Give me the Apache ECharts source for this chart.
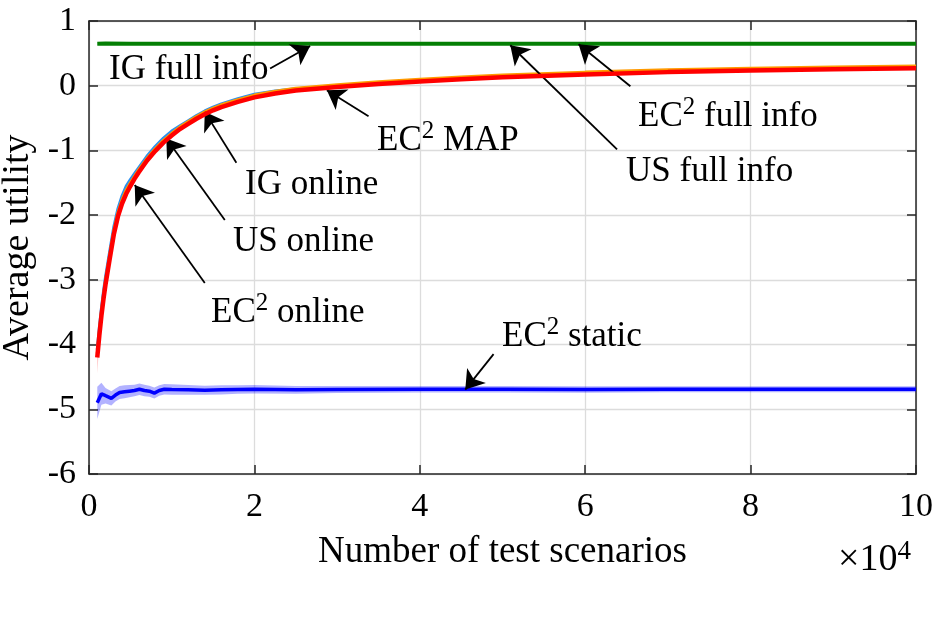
<!DOCTYPE html>
<html>
<head>
<meta charset="utf-8">
<script src="https://cdn.jsdelivr.net/npm/echarts@6/dist/echarts.min.js"></script>
<style>
html, body { margin: 0; padding: 0; background: #fff; }
#main { width: 934px; height: 624px; }
</style>
</head>
<body>
<div id="main"></div>
<script>
// number of test scenarios for the online curves
var nOnline = [1000, 1250, 1500, 1750, 2000, 2500, 3000, 3500, 4000, 4500, 5000, 5500, 6000, 7000, 8000, 9000, 10000, 11000, 12000, 13000, 14000, 15000, 16000, 18000, 20000, 22500, 25000, 30000, 35000, 40000, 45000, 50000, 60000, 70000, 80000, 90000, 100000];
var ec2Online = [-4.2, -3.86, -3.56, -3.3, -3.07, -2.68, -2.3, -2.02, -1.82, -1.67, -1.55, -1.44, -1.34, -1.16, -1.01, -0.88, -0.77, -0.67, -0.59, -0.51, -0.44, -0.38, -0.33, -0.25, -0.18, -0.12, -0.075, -0.02, 0.025, 0.065, 0.1, 0.13, 0.175, 0.21, 0.235, 0.255, 0.27];
var usOnline = [-4.14, -3.8, -3.5, -3.24, -3.01, -2.62, -2.24, -1.96, -1.76, -1.61, -1.5, -1.4, -1.3, -1.125, -0.975, -0.845, -0.735, -0.635, -0.555, -0.475, -0.405, -0.345, -0.295, -0.215, -0.145, -0.085, -0.04, 0.015, 0.06, 0.1, 0.135, 0.165, 0.21, 0.245, 0.27, 0.29, 0.305];
var igOnline = [-4.08, -3.74, -3.44, -3.18, -2.95, -2.56, -2.18, -1.9, -1.7, -1.55, -1.45, -1.36, -1.27, -1.09, -0.94, -0.81, -0.7, -0.62, -0.54, -0.46, -0.39, -0.33, -0.28, -0.2, -0.13, -0.08, -0.045, 0.0, 0.04, 0.08, 0.115, 0.145, 0.19, 0.225, 0.25, 0.27, 0.285];
// spread of EC2 online, only visible at the first scenarios
var nOnlineEarly = [1000, 1250, 1500, 1750, 2000];
var ec2OnlineEarly = [-4.2, -3.86, -3.56, -3.3, -3.07];
var ec2OnlineSpread = [0.25, 0.1, 0.06, 0.04, 0.03];

// full info (IG / US / EC2 overlap)
var nFull = [1000, 2000, 5000, 10000, 20000, 30000, 50000, 100000];
var fullInfo = [0.65, 0.652, 0.65, 0.65, 0.65, 0.65, 0.65, 0.65];

// EC2 static with its spread
var nStatic = [1000, 1500, 2000, 2700, 3200, 3700, 4300, 4900, 5500, 6100, 6700, 7300, 7900, 8500, 9100, 10000, 12000, 14000, 16000, 18000, 20000, 25000, 30000, 40000, 50000, 60000, 70000, 80000, 90000, 100000];
var staticMean = [-4.9, -4.76, -4.79, -4.83, -4.78, -4.74, -4.73, -4.72, -4.71, -4.69, -4.71, -4.72, -4.75, -4.71, -4.69, -4.695, -4.70, -4.705, -4.70, -4.695, -4.69, -4.70, -4.695, -4.69, -4.69, -4.695, -4.69, -4.69, -4.69, -4.69];
var staticSpread = [0.25, 0.17, 0.12, 0.11, 0.1, 0.1, 0.1, 0.095, 0.09, 0.09, 0.09, 0.085, 0.085, 0.08, 0.08, 0.08, 0.075, 0.07, 0.07, 0.065, 0.065, 0.06, 0.055, 0.05, 0.05, 0.05, 0.045, 0.045, 0.045, 0.045];

var yTicks = [-6, -5, -4, -3, -2, -1, 0, 1];

var FONT = '"Liberation Serif", "Times New Roman", serif';

function pairs(xs, ys) {
  return xs.map(function (x, i) { return [x, ys[i]]; });
}

// annotation arrows, [tail, head] in data units
var arrows = [
  [[21900, 0.265], [26740, 0.614]],
  [[33800, -0.471], [28760, -0.069]],
  [[17820, -1.19], [14000, -0.404]],
  [[16420, -2.076], [9350, -0.815]],
  [[14000, -3.05], [5530, -1.535]],
  [[48920, -4.148], [45500, -4.696]],
  [[63850, -0.985], [50940, 0.625]],
  [[65460, -0.008], [59200, 0.64]]
];

function note(text, x, base, size) {
  size = size || 35;
  return {
    type: 'text', x: x, y: base - 32.5, z: 100,
    style: {
      text: text, align: 'left', verticalAlign: 'top',
      rich: {
        n: { fontSize: size, fontFamily: FONT, fill: '#000', lineHeight: 44 },
        s: { fontSize: Math.round(size * 0.72), fontFamily: FONT, fill: '#000', lineHeight: 25, verticalAlign: 'top' }
      }
    }
  };
}

// shaded spread round a curve, one polygon
function bandRenderer(xs, mean, spread, color) {
  return function (params, api) {
    var upper = [], lower = [];
    for (var i = 0; i < xs.length; i++) {
      upper.push(api.coord([xs[i], mean[i] + spread[i]]));
      lower.unshift(api.coord([xs[i], mean[i] - spread[i]]));
    }
    return {
      type: 'polygon',
      shape: { points: upper.concat(lower) },
      style: { fill: color, stroke: 'none' }
    };
  };
}

var chart = echarts.init(document.getElementById('main'));

var axisLine = { show: true, onZero: false, lineStyle: { color: '#262626', width: 1.5 } };
var axisTick = { show: true, inside: true, length: 9, lineStyle: { color: '#262626', width: 1.5 } };

var option = {
  animation: false,
  backgroundColor: '#fff',
  grid: { left: 89, right: 18, top: 21, bottom: 150, containLabel: false, outerBoundsMode: 'none' },
  xAxis: [
    {
      type: 'value', min: 0, max: 100000, interval: 20000,
      axisLine: axisLine, axisTick: axisTick,
      axisLabel: { formatter: function (v) { return String(v / 10000); }, fontFamily: 'Liberation Serif', fontSize: 34, color: '#000', margin: 16 },
      splitLine: { show: true, lineStyle: { color: '#dcdcdc', width: 1.3 } },
      name: 'Number of test scenarios', nameLocation: 'middle', nameGap: 60,
      nameTextStyle: { fontFamily: 'Liberation Serif', fontSize: 37, color: '#000' }
    },
    {
      type: 'value', position: 'top', min: 0, max: 100000, interval: 20000,
      axisLine: axisLine, axisTick: axisTick, axisLabel: { show: false }, splitLine: { show: false }
    }
  ],
  yAxis: [
    {
      type: 'value', min: yTicks[0], max: yTicks[yTicks.length - 1], interval: 1,
      axisLine: axisLine, axisTick: axisTick,
      axisLabel: { fontFamily: 'Liberation Serif', fontSize: 34, color: '#000', margin: 13 },
      splitLine: { show: true, lineStyle: { color: '#dcdcdc', width: 1.3 } },
      name: 'Average utility', nameLocation: 'middle', nameGap: 45,
      nameTextStyle: { fontFamily: 'Liberation Serif', fontSize: 38, color: '#000' }
    },
    {
      type: 'value', position: 'right', min: yTicks[0], max: yTicks[yTicks.length - 1], interval: 1,
      axisLine: axisLine, axisTick: axisTick, axisLabel: { show: false }, splitLine: { show: false }
    }
  ],
  series: [
    {
      name: 'static spread', type: 'custom', data: [[nStatic[0], staticMean[0]]],
      renderItem: bandRenderer(nStatic, staticMean, staticSpread, 'rgba(0,0,255,0.3)'),
      silent: true, z: 2, clip: true
    },
    {
      name: 'online spread', type: 'custom', data: [[nOnlineEarly[0], ec2OnlineEarly[0]]],
      renderItem: bandRenderer(nOnlineEarly, ec2OnlineEarly, ec2OnlineSpread, 'rgba(255,0,0,0.25)'),
      silent: true, z: 2, clip: true
    },
    {
      name: 'EC2 static', type: 'line', data: pairs(nStatic, staticMean), symbol: 'none',
      lineStyle: { color: '#0000ff', width: 3.5 }, z: 3
    },
    {
      name: 'full info', type: 'line', data: pairs(nFull, fullInfo), symbol: 'none',
      lineStyle: { color: '#047f04', width: 4 }, z: 3
    },
    {
      name: 'IG online', type: 'line', data: pairs(nOnline, igOnline), symbol: 'none',
      lineStyle: { color: '#2a8ff0', width: 3 }, z: 3
    },
    {
      name: 'US online', type: 'line', data: pairs(nOnline, usOnline), symbol: 'none',
      lineStyle: { color: '#ff9a00', width: 3 }, z: 4
    },
    {
      name: 'EC2 online', type: 'line', data: pairs(nOnline, ec2Online), symbol: 'none',
      lineStyle: { color: '#ff0000', width: 4.5 }, z: 5
    },
    {
      name: 'arrows', type: 'line', data: [], z: 8,
      markLine: {
        silent: true, animation: false,
        symbol: ['none', 'arrow'], symbolSize: 18,
        label: { show: false },
        lineStyle: { color: '#000', width: 1.8, type: 'solid' },
        emphasis: { disabled: true },
        data: arrows.map(function (a) {
          return [{ coord: a[0] }, { coord: a[1] }];
        })
      }
    }
  ],
  graphic: [
    note('{n|IG full info}', 109, 80),
    note('{n|EC}{s|2}{n| MAP}', 377, 151),
    note('{n|IG online}', 245, 195),
    note('{n|US online}', 233, 252),
    note('{n|EC}{s|2}{n| online}', 211, 323),
    note('{n|EC}{s|2}{n| static}', 502, 347),
    note('{n|US full info}', 626, 182),
    note('{n|EC}{s|2}{n| full info}', 638, 127),
    note('{n|\u00d710}{s|4}', 838, 571, 38)
  ]
};

chart.setOption(option);
</script>
</body>
</html>
